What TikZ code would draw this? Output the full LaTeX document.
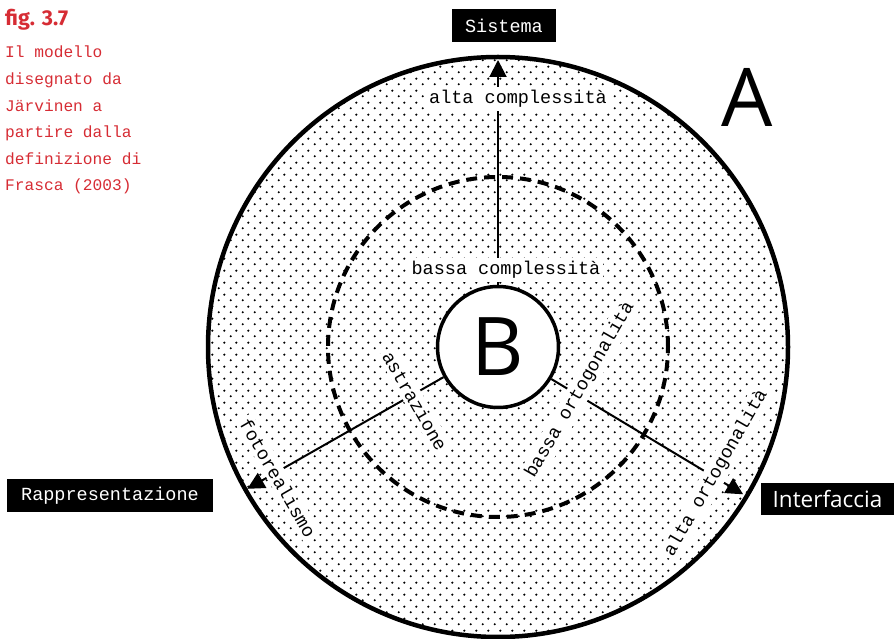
\documentclass[tikz,border=0pt]{standalone}
\usepackage{fontspec}
\setmainfont{Open Sans}
\setmonofont{Liberation Mono}
\newfontfamily\capfont{Fira Sans}
\usepackage{tikz}
\usetikzlibrary{
  arrows.meta,
  positioning,
  patterns.meta
}
\definecolor{figred}{RGB}{214,44,52}

\tikzdeclarepattern{
  name=halftone,
  type=uncolored,
  bounding box={(0pt,0pt) and (12pt,12pt)},
  tile size={(12pt,12pt)},
  code={
    \fill (3pt,3pt) circle (1.3pt);
    \fill (9pt,9pt) circle (1.3pt);
  }
}

\begin{document}
\begin{tikzpicture}[
  x=1pt, y=1pt,
  axis/.style={line width=2pt, -{Triangle[length=17pt,width=17pt]}},
  lbl/.style={fill=white, inner sep=3pt, font=\fontsize{18.5}{20}\selectfont\ttfamily},
  tag/.style={fill=black, text=white, minimum height=33pt, inner sep=0pt,
    font=\fontsize{18.5}{20}\selectfont\ttfamily},
  big/.style={font=\fontsize{81}{81}\selectfont}
]
  \useasboundingbox (0,0) rectangle (895,638);
  \coordinate (O) at (498,291);

  % fondo a puntini e cerchi
  \fill[pattern=halftone, pattern color=black] (O) circle (290pt);
  \draw[line width=4.5pt] (O) circle (290pt);
  \draw[line width=4pt, dash pattern=on 11pt off 7pt] (O) circle (170pt);

  \node[circle, draw, line width=3.5pt, fill=white, minimum size=121pt,
    inner sep=0pt, big] (core) at (O) {B};

  \coordinate (tipsys) at ([shift={(90:287pt)}]O);
  \coordinate (tiprep) at ([shift={(209.5:288pt)}]O);
  \coordinate (tipint) at ([shift={(329:286pt)}]O);

  \draw[axis] (core.north) -- (tipsys);
  \draw[axis] (core.209.5) -- (tiprep);
  \draw[axis] (core.329) -- (tipint);

  % etichette sugli assi
  \node[lbl] (hicx) at (518,539) {alta complessità};
  \node[lbl] (locx) at (506,368) {bassa complessità};
  \node[lbl, rotate=-60] (abst) at (415,237) {astrazione};
  \node[lbl, rotate=-60] (photo) at (278,160) {fotorealismo};
  \node[lbl, rotate=60] (loort) at (580,248) {bassa ortogonalità};
  \node[lbl, rotate=60] (hiort) at (716,165) {alta ortogonalità};

  % poli
  \node[tag, minimum width=104pt] (sys) at (504,612.5) {Sistema};
  \node[tag, minimum width=206pt] (rep) at (110,142.5) {Rappresentazione};
  \node[tag, minimum width=133pt, minimum height=32pt,
    font=\fontsize{22.5}{24}\selectfont] (intf) at (827.5,139) {Interfaccia};

  \node[big, inner sep=0pt] (outer) at (747.5,541) {A};

  % didascalia
  \node[anchor=base west, inner sep=0pt, text=figred,
    font=\fontsize{21.5}{22}\selectfont\capfont\bfseries] (fig) at (5,612) {fig. 3.7};
  \node[anchor=north west, inner sep=0pt, text=figred, align=left,
    font=\fontsize{16.2}{26.6}\selectfont\ttfamily] (note) at (5,592)
    {Il modello\\disegnato da\\Järvinen a\\partire dalla\\definizione di\\Frasca (2003)};
\end{tikzpicture}
\end{document}
